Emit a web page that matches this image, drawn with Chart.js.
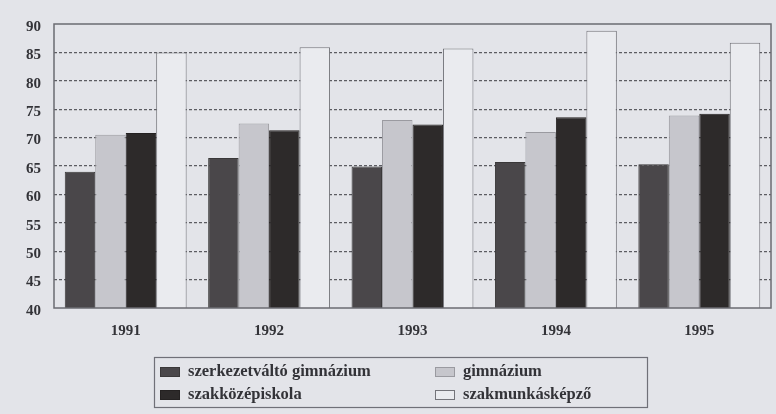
<!DOCTYPE html>
<html>
<head>
<meta charset="utf-8">
<script src="https://cdn.jsdelivr.net/npm/chart.js@4/dist/chart.umd.min.js"></script>
<style>
  html, body { margin: 0; padding: 0; background: #e3e4e9; }
  #wrap { width: 776px; height: 414px; position: relative; }
</style>
</head>
<body>
<div id="wrap"><canvas id="c" width="776" height="414"></canvas></div>
<script>
// Years on the category axis
const years = ['1991', '1992', '1993', '1994', '1995'];

// Series values (per cent) by school type
const szerkezetvaltoGimnazium = [64.0, 66.4, 64.9, 65.7, 65.3];
const gimnazium = [70.5, 72.5, 73.1, 71.0, 73.9];
const szakkozepiskola = [70.8, 71.3, 72.3, 73.6, 74.2];
const szakmunkaskepzo = [85.0, 85.9, 85.7, 88.8, 86.7];

// Series names for the legend
const seriesNames = ['szerkezetváltó gimnázium', 'gimnázium', 'szakközépiskola', 'szakmunkásképző'];

// Value axis ticks
const yMin = 40, yMax = 90, yStep = 5;

const SERIF = '"Liberation Serif", "DejaVu Serif", serif';
const textColor = '#333338';
const frameColor = '#6b6b72';

const fills = ['#4a474a', '#c6c6cc', '#2d2a2a', '#eaebef'];
const edges = ['#3a3839', '#9a9aa0', '#242121', '#74747a'];

// Frame around the plot area
const framePlugin = {
  id: 'frame',
  afterDatasetsDraw(chart) {
    const { ctx, chartArea: a } = chart;
    ctx.save();
    ctx.strokeStyle = frameColor;
    ctx.lineWidth = 1.5;
    ctx.strokeRect(a.left, a.top, a.right - a.left, a.bottom - a.top);
    ctx.restore();
  }
};

// Two-column boxed legend below the chart
const boxLegendPlugin = {
  id: 'boxLegend',
  afterDraw(chart) {
    const { ctx } = chart;
    const items = chart.data.datasets;
    const box = { x: 154.5, y: 357.5, w: 493, h: 50 };
    ctx.save();
    ctx.strokeStyle = '#707078';
    ctx.lineWidth = 1.2;
    ctx.strokeRect(box.x, box.y, box.w, box.h);
    const cols = [160, 435];
    const rows = [372, 395];
    ctx.font = 'bold 16.5px ' + SERIF;
    ctx.textBaseline = 'middle';
    ctx.textAlign = 'left';
    items.forEach((ds, i) => {
      const col = cols[i % 2];
      const row = rows[Math.floor(i / 2)];
      ctx.fillStyle = ds.backgroundColor;
      ctx.fillRect(col, row - 5, 20, 10);
      ctx.strokeStyle = ds.borderColor;
      ctx.lineWidth = 1;
      ctx.strokeRect(col + 0.5, row - 4.5, 19, 9);
      ctx.fillStyle = textColor;
      ctx.fillText(ds.label, col + 28, row);
    });
    ctx.restore();
  }
};

const seriesValues = [szerkezetvaltoGimnazium, gimnazium, szakkozepiskola, szakmunkaskepzo];

new Chart(document.getElementById('c'), {
  type: 'bar',
  data: {
    labels: years,
    datasets: seriesValues.map((vals, i) => ({
      label: seriesNames[i],
      data: vals,
      backgroundColor: fills[i],
      borderColor: edges[i],
      borderWidth: 1,
      borderSkipped: false,
      barPercentage: 1.0,
      categoryPercentage: 0.85
    }))
  },
  options: {
    responsive: false,
    animation: false,
    devicePixelRatio: 1,
    layout: { padding: { left: 0, right: 5, top: 24, bottom: 0 } },
    plugins: {
      legend: { display: false },
      tooltip: { enabled: false }
    },
    scales: {
      x: {
        grid: { display: false },
        border: { display: false },
        ticks: {
          color: textColor,
          font: { family: SERIF, size: 15, weight: 'bold' },
          padding: 6,
          maxRotation: 0
        },
        afterFit(scale) { scale.height = 106; }
      },
      y: {
        min: yMin,
        max: yMax,
        grid: {
          drawTicks: false,
          color: (c) => (c.tick && (c.tick.value === yMin || c.tick.value === yMax)) ? 'rgba(0,0,0,0)' : '#5c5c62',
          lineWidth: 1.2
        },
        border: { display: false, dash: [3, 2] },
        ticks: {
          stepSize: yStep,
          color: textColor,
          font: { family: SERIF, size: 15, weight: 'bold' },
          padding: 13,
          labelOffset: 3
        },
        afterFit(scale) { scale.width = 54; }
      }
    }
  },
  plugins: [framePlugin, boxLegendPlugin]
});
</script>
</body>
</html>
